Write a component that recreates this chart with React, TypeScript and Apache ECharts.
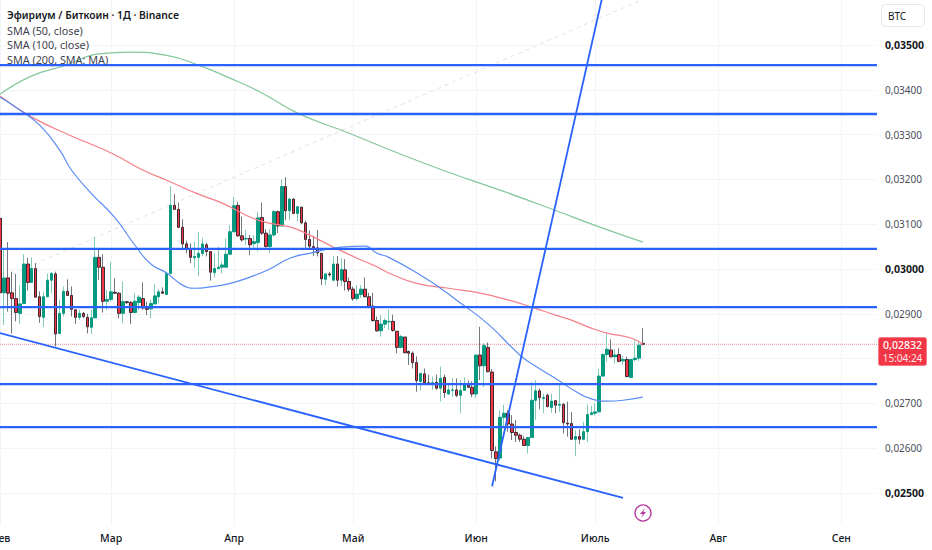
import React, { useEffect, useRef } from "react";
import * as echarts from "echarts";

// Prices are in units of 0.00001 BTC
const opens = [3113,2947,2980,2947,2934,2901,2923,3011,2970,3001,2938,2892,2938,2975,2989,2856,2901,2950,2941,2909,2892,2901,2892,2870,2891,3026,3004,2928,2932,2948,2946,2901,2927,2925,2903,2925,2934,2913,2911,2922,2938,2949,2943,2990,3142,3133,3093,3056,3044,3025,3026,3035,3054,3039,2992,3001,3004,3004,3033,3083,3142,3074,3067,3068,3057,3059,3115,3080,3050,3076,3128,3096,3184,3130,3156,3124,3138,3103,3066,3050,3047,3035,2977,2989,2975,3011,2975,2998,2972,2955,2934,2943,2955,2938,2917,2885,2862,2877,2882,2883,2861,2825,2848,2816,2812,2791,2749,2766,2746,2745,2747,2734,2758,2721,2729,2730,2718,2729,2741,2736,2721,2808,2784,2825,2770,2592,2578,2669,2678,2654,2635,2629,2620,2606,2624,2707,2728,2711,2718,2691,2706,2696,2698,2656,2655,2620,2626,2620,2637,2675,2678,2681,2761,2809,2819,2804,2809,2795,2798,2758,2798,2801,2834];
const closes = [2947,2980,2946,2934,2903,2922,3011,2970,3001,2937,2894,2938,2975,2990,2855,2901,2950,2941,2910,2892,2901,2894,2871,2891,3026,3004,2928,2932,2949,2946,2901,2927,2925,2903,2928,2937,2913,2910,2923,2940,2949,2946,2990,3142,3133,3093,3056,3044,3026,3028,3035,3056,3039,2993,3001,3004,3009,3033,3083,3141,3074,3065,3068,3054,3061,3114,3080,3050,3076,3128,3096,3184,3130,3156,3124,3139,3103,3066,3051,3045,3036,2978,2989,2987,3011,2975,2999,2972,2955,2934,2944,2955,2938,2917,2885,2862,2877,2885,2883,2863,2825,2849,2813,2812,2791,2751,2767,2746,2745,2746,2734,2756,2724,2730,2730,2718,2729,2741,2736,2721,2808,2784,2829,2771,2595,2577,2669,2678,2654,2635,2629,2620,2606,2624,2707,2728,2713,2713,2693,2705,2696,2698,2657,2654,2620,2626,2620,2637,2675,2679,2681,2761,2809,2821,2804,2808,2794,2798,2760,2798,2801,2830,2832];
const lows = [2927,2875,2905,2856,2883,2877,2923,2952,2970,2937,2880,2871,2938,2946,2827,2856,2894,2940,2894,2877,2886,2890,2856,2855,2891,2975,2903,2909,2927,2944,2890,2879,2922,2877,2901,2909,2909,2897,2890,2922,2923,2944,2943,2990,3133,3093,3042,3035,3013,3002,2984,3028,3028,2974,2981,2999,2990,3004,3033,3083,3072,3061,3054,3031,3048,3039,3076,3048,3036,3072,3080,3095,3109,3109,3123,3106,3100,3046,3046,3029,3028,2964,2964,2983,2972,2961,2962,2952,2949,2929,2929,2935,2937,2914,2882,2860,2849,2868,2864,2860,2812,2823,2812,2786,2778,2726,2729,2745,2743,2730,2730,2704,2712,2719,2715,2714,2678,2729,2735,2714,2712,2752,2736,2769,2577,2526,2572,2645,2637,2618,2614,2614,2605,2588,2624,2663,2687,2678,2691,2679,2678,2681,2633,2626,2618,2582,2609,2618,2614,2674,2673,2681,2761,2793,2803,2789,2792,2786,2758,2758,2793,2795,2829];
const highs = [3123,3044,3060,2994,2989,2964,3033,3025,3026,3013,2950,2949,2990,2993,2994,2931,2961,2977,2961,2909,2909,2904,2900,2909,3071,3045,3033,2953,3016,2979,2948,2972,2929,2929,2946,2942,2970,2927,2931,2967,2955,2959,2994,3185,3167,3148,3111,3063,3057,3061,3083,3069,3059,3039,3035,3050,3016,3068,3098,3161,3150,3117,3087,3076,3076,3128,3148,3089,3089,3132,3130,3200,3205,3158,3158,3139,3139,3108,3086,3074,3087,3035,2990,2994,3029,3029,3024,3022,2981,2961,2964,2964,2981,2947,2947,2894,2897,2890,2909,2898,2861,2853,2849,2818,2816,2805,2767,2778,2764,2760,2764,2782,2764,2745,2756,2756,2752,2758,2751,2749,2808,2871,2834,2836,2777,2604,2685,2697,2685,2674,2663,2633,2627,2624,2748,2752,2733,2722,2722,2721,2707,2743,2700,2704,2681,2640,2642,2659,2698,2694,2701,2777,2812,2856,2843,2821,2823,2806,2804,2798,2841,2840,2868];

const monthLabels: Record<string, string> = { "02-01": "Фев", "03-01": "Мар", "04-01": "Апр", "05-01": "Май", "06-01": "Июн", "07-01": "Июль", "08-01": "Авг", "09-01": "Сен" };
const monthLengths: [string, number][] = [["02", 28], ["03", 31], ["04", 30], ["05", 31], ["06", 30], ["07", 31], ["08", 31], ["09", 10]];
const days: string[] = monthLengths.flatMap(([m, n]) => Array.from({ length: n }, (_, d) => `${m}-${String(d + 1).padStart(2, "0")}`));

const priceTicks = [2500, 2600, 2700, 2800, 2900, 3000, 3100, 3200, 3300, 3400, 3500];
const labelledTicks = [2500, 2600, 2700, 2900, 3000, 3100, 3200, 3300, 3400, 3500];
const boldTicks = [2500, 3000, 3500];

const sma50 = [[0,3384],[5,3355],[10,3321],[15,3266],[18,3221],[23,3169],[29,3114],[34,3053],[38,3011],[42,2991],[46,2964],[49,2957],[53,2960],[58,2968],[63,2982],[68,3000],[73,3024],[78,3035],[86,3049],[92,3051],[95,3035],[98,3026],[106,2986],[111,2957],[115,2931],[123,2877],[131,2808],[135,2783],[141,2750],[145,2727],[149,2710],[153,2705],[157,2707],[162,2714]];
const sma100 = [[0,3386],[8,3339],[18,3297],[28,3259],[36,3221],[42,3198],[50,3167],[56,3147],[65,3109],[73,3094],[77,3080],[84,3049],[90,3024],[94,3009],[98,2991],[105,2968],[113,2957],[121,2946],[128,2931],[134,2915],[140,2897],[144,2886],[149,2868],[153,2857],[159,2846],[162,2832]];
const sma200 = [[0,3390],[8,3431],[16,3453],[25,3480],[33,3484],[42,3477],[50,3455],[58,3426],[66,3393],[75,3348],[88,3303],[101,3256],[113,3216],[126,3176],[139,3134],[151,3094],[162,3060]];
const levels = [3455, 3346, 3045, 2915, 2743, 2647];
const steepLine = [[124, 2515], [152, 3616]];
const channelLine = [[0, 2857], [157, 2489]];
const fibLine = [[3, 2989], [161, 3598]];
const lastPrice = 2832;

const legendLines = ["SMA (50, close)", "SMA (100, close)", "SMA (200, SMA: MA)"];
const FONT = '"Noto Sans", sans-serif';

const fmt = (v: number) => (v / 100000).toFixed(5).replace(".", ",");

function lineSeries(data: number[][], color: string, width: number, z: number, type: string | number[] = "solid", smooth: number | boolean = false) {
  return { type: "line", data, showSymbol: false, silent: true, z, smooth, lineStyle: { color, width, type }, clip: true };
}

export default function App() {
  const ref = useRef<HTMLDivElement>(null);
  useEffect(() => {
    document.body.style.margin = "0";
    const chart = echarts.init(ref.current!, undefined, { renderer: "svg" });
    const wicks = opens.map((o, i) => [o, closes[i], lows[i], highs[i]]);
    const bodies = opens.map((o, i) => [o, closes[i], Math.min(o, closes[i]), Math.max(o, closes[i])]);
    const text = (t: string, x: number, y: number, size: number, fill: string, weight: string | number = "normal", align = "left") => ({
      type: "text", x, y, z: 50, style: { text: t, fill, font: `${weight} ${size}px ${FONT}`, textAlign: align, textVerticalAlign: "middle" },
    });
    chart.setOption({
      animation: false,
      backgroundColor: "#ffffff",
      grid: { left: 0, top: 0, width: 877, height: 525, outerBoundsMode: "none" },
      xAxis: {
        type: "category",
        data: days,
        boundaryGap: false,
        axisLine: { show: false },
        axisTick: { show: false },
        axisLabel: {
          interval: (_: number, v: string) => v in monthLabels,
          formatter: (v: string) => monthLabels[v] ?? "",
          color: "#131722", fontFamily: FONT, fontSize: 10.5, fontWeight: 500, margin: 7,
        },
        splitLine: { show: true, interval: (_: number, v: string) => v in monthLabels, lineStyle: { color: "#f3f4f8", width: 1 } },
      },
      yAxis: {
        type: "value",
        position: "right",
        min: 2428.6,
        max: 3600.4,
        axisLine: { show: false },
        axisTick: { show: false, customValues: priceTicks },
        axisLabel: {
          customValues: labelledTicks,
          margin: 8,
          formatter: (v: number) => (boldTicks.includes(Math.round(v)) ? `{b|${fmt(v)}}` : `{n|${fmt(v)}}`),
          rich: {
            b: { color: "#131722", fontFamily: FONT, fontSize: 10.5, fontWeight: "bold" },
            n: { color: "#4a4e5a", fontFamily: FONT, fontSize: 10 },
          },
        },
        splitLine: { show: true, lineStyle: { color: "#f3f4f8", width: 1 } },
      },
      series: [
        {
          type: "candlestick", data: wicks, barWidth: 1, z: 2, silent: true,
          itemStyle: { color: "#7fcbb8", color0: "#74767e", borderColor: "#7fcbb8", borderColor0: "#74767e", borderWidth: 1 },
        },
        {
          type: "candlestick", data: bodies, barWidth: 3, z: 3, silent: true,
          itemStyle: { color: "#089981", color0: "#f23645", borderColor: "#089981", borderColor0: "#3a2b33", borderWidth: 1 },
        },
        lineSeries([[0, lastPrice], [221, lastPrice]], "#f4848c", 1, 1, "dotted"),
        lineSeries(fibLine, "#dfe1e7", 1, 1, [4, 4]),
        lineSeries(sma200, "#84c79a", 1.2, 4, "solid", 0.5),
        lineSeries(sma100, "#f57f86", 1.2, 4, "solid", 0.5),
        lineSeries(sma50, "#5b8cf5", 1.2, 4, "solid", 0.5),
        ...levels.map((v) => lineSeries([[0, v], [221, v]], "#2962ff", 2.3, 5)),
        lineSeries(steepLine, "#2962ff", 1.8, 5),
        lineSeries(channelLine, "#2962ff", 1.8, 5),
      ],
      graphic: [
        text("Эфириум / Биткоин · 1Д · Binance", 7, 15, 10.3, "#131722", 600),
        ...legendLines.map((t, i) => text(t, 7, 30 + i * 14.5, 10.8, "#3f434f")),
        { type: "rect", z: 50, shape: { x: 881.5, y: 4.5, width: 43, height: 22, r: 4 }, style: { fill: "#fff", stroke: "#e6e8ee", lineWidth: 1 } },
        text("BTC", 888, 15.5, 10, "#131722"),
        { type: "rect", z: 50, shape: { x: 878.5, y: 337.5, width: 48, height: 28, r: 2 }, style: { fill: "#f23645", stroke: "#f77c86", lineWidth: 1 } },
        text("0,02832", 902.5, 345, 10.5, "#ffffff", 500, "center"),
        text("15:04:24", 902.5, 358, 10, "#fde3e5", "normal", "center"),
        { type: "circle", z: 50, shape: { cx: 643, cy: 513, r: 8 }, style: { fill: "#fff", stroke: "#b5399f", lineWidth: 1.4 } },
        { type: "polygon", z: 51, shape: { points: [[645, 508], [640, 514], [642.8, 514], [641, 518], [646, 512], [643.2, 512]] }, style: { fill: "#b5399f" } },
      ],
    });
    return () => chart.dispose();
  }, []);
  return <div ref={ref} style={{ width: 932, height: 550 }} />;
}
